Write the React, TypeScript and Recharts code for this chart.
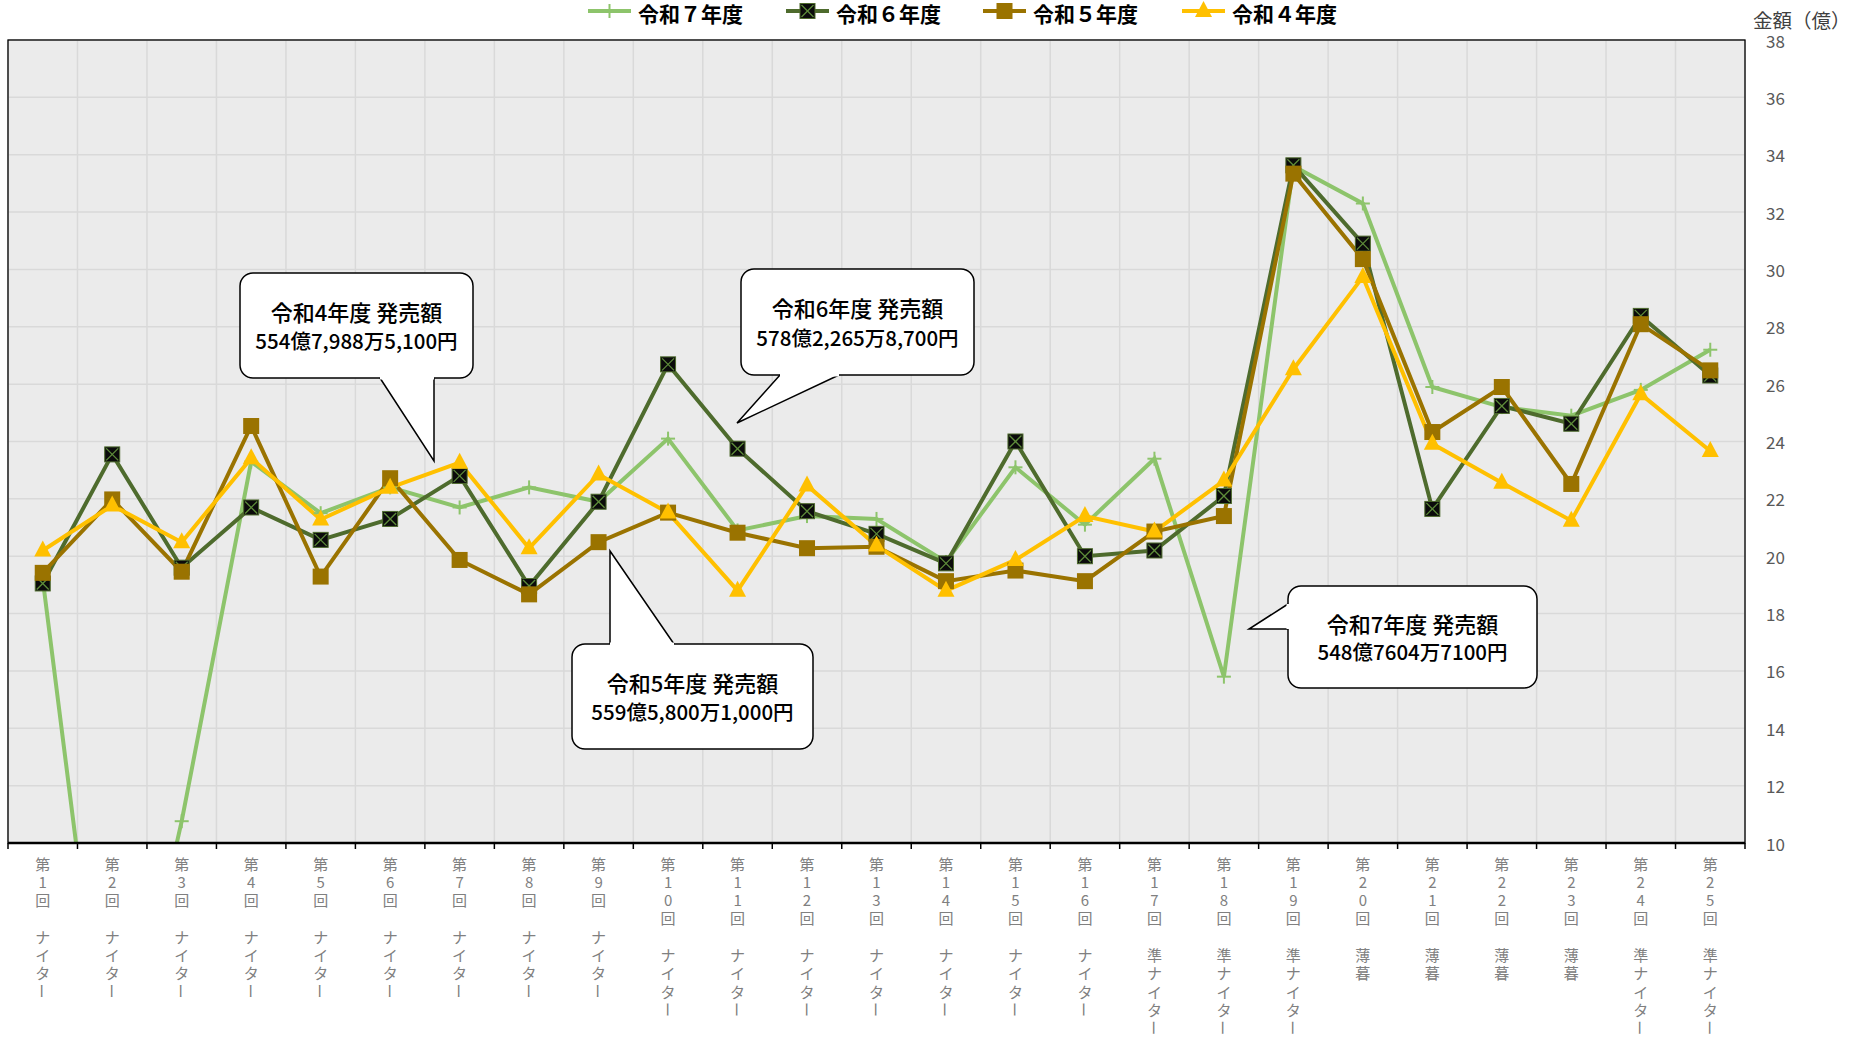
import React from "react";
import { LineChart, Line, XAxis, YAxis, CartesianGrid } from "recharts";

// 開催回・開催区分
const rounds = [
  "第1回", "第2回", "第3回", "第4回", "第5回", "第6回", "第7回", "第8回", "第9回", "第10回",
  "第11回", "第12回", "第13回", "第14回", "第15回", "第16回", "第17回", "第18回", "第19回", "第20回",
  "第21回", "第22回", "第23回", "第24回", "第25回",
];
const sessions = [
  "ナイター", "ナイター", "ナイター", "ナイター", "ナイター", "ナイター", "ナイター", "ナイター",
  "ナイター", "ナイター", "ナイター", "ナイター", "ナイター", "ナイター", "ナイター", "ナイター",
  "準ナイター", "準ナイター", "準ナイター", "薄暮", "薄暮", "薄暮", "薄暮", "準ナイター", "準ナイター",
];

// 発売額（億円）
const r7 = [19.2, 0, 10.76, 23.3, 21.5, 22.4, 21.7, 22.4, 21.9, 24.1, 20.9, 21.4, 21.3, 19.8, 23.1, 21.1, 23.4, 15.8, 33.6, 32.3, 25.9, 25.2, 24.9, 25.8, 27.2];
const r6 = [19.05, 23.55, 19.6, 21.7, 20.57, 21.3, 22.8, 18.96, 21.9, 26.69, 23.75, 21.57, 20.78, 19.75, 24.0, 20.0, 20.2, 22.1, 33.63, 30.9, 21.65, 25.24, 24.62, 28.38, 26.3];
const r5 = [19.42, 21.98, 19.46, 24.54, 19.29, 22.72, 19.87, 18.67, 20.49, 21.52, 20.82, 20.28, 20.33, 19.13, 19.5, 19.13, 20.86, 21.4, 33.34, 30.36, 24.33, 25.9, 22.52, 28.09, 26.48];
const r4 = [20.2, 21.77, 20.49, 23.42, 21.28, 22.39, 23.26, 20.28, 22.85, 21.52, 18.8, 22.47, 20.37, 18.8, 19.87, 21.4, 20.86, 22.64, 26.52, 29.74, 23.92, 22.56, 21.24, 25.65, 23.67];

const yTicks = [10, 12, 14, 16, 18, 20, 22, 24, 26, 28, 30, 32, 34, 36, 38];

const data = rounds.map((name, i) => ({ name, session: sessions[i], r7: r7[i], r6: r6[i], r5: r5[i], r4: r4[i] }));

const W = 1853;
const H = 1041;
const PL = 8;
const PT = 40;
const PR = 1745;
const PB = 843;
const BW = (PR - PL) / rounds.length;
const FONT = "'Noto Sans CJK JP', 'Noto Sans', sans-serif";

const C7 = "#8DC46B";
const C6 = "#4E6B2D";
const C5 = "#9A7300";
const C4 = "#FFC000";

const boundaries = Array.from({ length: rounds.length + 1 }, (_, i) => PL + i * BW);

function PlusDot({ cx, cy }: any) {
  if (cx == null || cy == null) return null;
  return (
    <g>
      <line x1={cx - 7} y1={cy} x2={cx + 7} y2={cy} stroke={C7} strokeWidth={2} />
      <line x1={cx} y1={cy - 7} x2={cx} y2={cy + 7} stroke={C7} strokeWidth={2} />
    </g>
  );
}

function XSquareDot({ cx, cy }: any) {
  if (cx == null || cy == null) return null;
  const s = 7.5;
  return (
    <g>
      <rect x={cx - s} y={cy - s} width={s * 2} height={s * 2} fill="#0b0b0b" stroke={C6} strokeWidth={1} />
      <line x1={cx - s + 1.5} y1={cy - s + 1.5} x2={cx + s - 1.5} y2={cy + s - 1.5} stroke="#5E8C3A" strokeWidth={1.3} />
      <line x1={cx - s + 1.5} y1={cy + s - 1.5} x2={cx + s - 1.5} y2={cy - s + 1.5} stroke="#5E8C3A" strokeWidth={1.3} />
    </g>
  );
}

function SquareDot({ cx, cy }: any) {
  if (cx == null || cy == null) return null;
  return <rect x={cx - 8} y={cy - 8} width={16} height={16} fill={C5} />;
}

function TriDot({ cx, cy }: any) {
  if (cx == null || cy == null) return null;
  return <polygon points={`${cx},${cy - 10} ${cx - 8.5},${cy + 6} ${cx + 8.5},${cy + 6}`} fill={C4} />;
}

function XTick({ x, y, payload }: any) {
  const i = rounds.indexOf(payload.value);
  const chars = [...rounds[i].split(""), "", ...sessions[i].split("")];
  return (
    <g>
      {chars.map((c, k) => {
        if (!c) return null;
        const cy = y + 20 + k * 18.3;
        return (
          <text
            key={k}
            x={x}
            y={cy}
            textAnchor="middle"
            dominantBaseline="central"
            fontSize={15}
            fontFamily={FONT}
            fill="#808080"
            transform={c === "ー" ? `rotate(90 ${x} ${cy})` : undefined}
          >
            {c}
          </text>
        );
      })}
    </g>
  );
}

function YTick({ x, y, payload }: any) {
  return (
    <text x={x + 21} y={y} dominantBaseline="central" fontSize={17} fontFamily={FONT} fill="#595959">
      {payload.value}
    </text>
  );
}

const legendItems = [
  { label: "令和７年度", color: C7, dot: PlusDot, x: 588 },
  { label: "令和６年度", color: C6, dot: XSquareDot, x: 786 },
  { label: "令和５年度", color: C5, dot: SquareDot, x: 983 },
  { label: "令和４年度", color: C4, dot: TriDot, x: 1182 },
];

interface Callout {
  x: number;
  y: number;
  w: number;
  h: number;
  pointer: [number, number][];
  title: string;
  amount: string;
}

const callouts: Callout[] = [
  { x: 240, y: 273, w: 233, h: 105, pointer: [[380, 378], [434, 461], [434, 378]], title: "令和4年度 発売額", amount: "554億7,988万5,100円" },
  { x: 741, y: 269, w: 233, h: 106, pointer: [[780, 375], [737, 423], [839, 375]], title: "令和6年度 発売額", amount: "578億2,265万8,700円" },
  { x: 572, y: 644, w: 241, h: 105, pointer: [[610, 644], [610, 551], [674, 644]], title: "令和5年度 発売額", amount: "559億5,800万1,000円" },
  { x: 1288, y: 586, w: 249, h: 102, pointer: [[1288, 604], [1249, 629], [1288, 629]], title: "令和7年度 発売額", amount: "548億7604万7100円" },
];

function CalloutBox({ c }: { c: Callout }) {
  const pts = c.pointer.map((p) => p.join(",")).join(" ");
  const cx = c.x + c.w / 2;
  return (
    <g>
      <rect x={c.x} y={c.y} width={c.w} height={c.h} rx={13} ry={13} fill="#fff" stroke="#000" strokeWidth={1.5} />
      <polygon points={pts} fill="#fff" stroke="none" />
      <polyline points={pts} fill="none" stroke="#000" strokeWidth={1.5} />
      <line x1={c.pointer[0][0]} y1={c.pointer[0][1]} x2={c.pointer[2][0]} y2={c.pointer[2][1]} stroke="#fff" strokeWidth={3} />
      <text x={cx} y={c.y + c.h * 0.36} textAnchor="middle" dominantBaseline="central" fontSize={22} fontWeight={500} fontFamily={FONT} fill="#000">
        {c.title}
      </text>
      <text x={cx} y={c.y + c.h * 0.64} textAnchor="middle" dominantBaseline="central" fontSize={20.5} fontWeight={500} fontFamily={FONT} fill="#000">
        {c.amount}
      </text>
    </g>
  );
}

export default function App() {
  return (
    <div style={{ position: "absolute", left: 0, top: 0, width: W, height: H, background: "#fff" }}>
      <LineChart width={W} height={H} data={data} margin={{ top: PT, right: 18, bottom: 0, left: PL }}>
        <CartesianGrid fill="#EBEBEB" stroke="#D9D9D9" strokeWidth={1.5} verticalPoints={boundaries} />
        <XAxis
          dataKey="name"
          interval={0}
          axisLine={false}
          tickLine={false}
          tickSize={0}
          tickMargin={0}
          height={H - PB}
          padding={{ left: BW / 2, right: BW / 2 }}
          tick={(p: any) => <XTick {...p} />}
        />
        <YAxis
          orientation="right"
          type="number"
          width={90}
          domain={[10, 38]}
          ticks={yTicks}
          allowDataOverflow
          axisLine={false}
          tickLine={false}
          tickSize={0}
          tickMargin={0}
          tick={(p: any) => <YTick {...p} />}
        />
        <Line dataKey="r7" name="令和７年度" stroke={C7} strokeWidth={4} isAnimationActive={false} activeDot={false}
          dot={(p: any) => <PlusDot key={`a${p.index}`} {...p} />} />
        <Line dataKey="r6" name="令和６年度" stroke={C6} strokeWidth={4} isAnimationActive={false} activeDot={false}
          dot={(p: any) => <XSquareDot key={`b${p.index}`} {...p} />} />
        <Line dataKey="r5" name="令和５年度" stroke={C5} strokeWidth={4} isAnimationActive={false} activeDot={false}
          dot={(p: any) => <SquareDot key={`c${p.index}`} {...p} />} />
        <Line dataKey="r4" name="令和４年度" stroke={C4} strokeWidth={4} isAnimationActive={false} activeDot={false}
          dot={(p: any) => <TriDot key={`d${p.index}`} {...p} />} />
      </LineChart>

      <svg width={W} height={H} style={{ position: "absolute", left: 0, top: 0, pointerEvents: "none" }}>
        <rect x={PL} y={PT} width={PR - PL} height={PB - PT} fill="none" stroke="#000" strokeWidth={1.3} />
        <line x1={PL} y1={PB} x2={PR} y2={PB} stroke="#000" strokeWidth={2.5} />
        {boundaries.map((bx, i) => (
          <line key={i} x1={bx} y1={PB} x2={bx} y2={PB + 6} stroke="#000" strokeWidth={1.5} />
        ))}

        {legendItems.map((it) => {
          const Dot = it.dot;
          return (
            <g key={it.label}>
              <line x1={it.x} y1={11} x2={it.x + 43} y2={11} stroke={it.color} strokeWidth={4} />
              <Dot cx={it.x + 21.5} cy={11} />
              <text x={it.x + 50} y={12.5} dominantBaseline="central" fontSize={21} fontWeight="bold" fontFamily={FONT} fill="#000">
                {it.label}
              </text>
            </g>
          );
        })}

        <text x={1753} y={19} dominantBaseline="central" fontSize={19.5} fontFamily={FONT} fill="#404040">
          金額（億）
        </text>

        {callouts.map((c) => (
          <CalloutBox key={c.title} c={c} />
        ))}
      </svg>
    </div>
  );
}
